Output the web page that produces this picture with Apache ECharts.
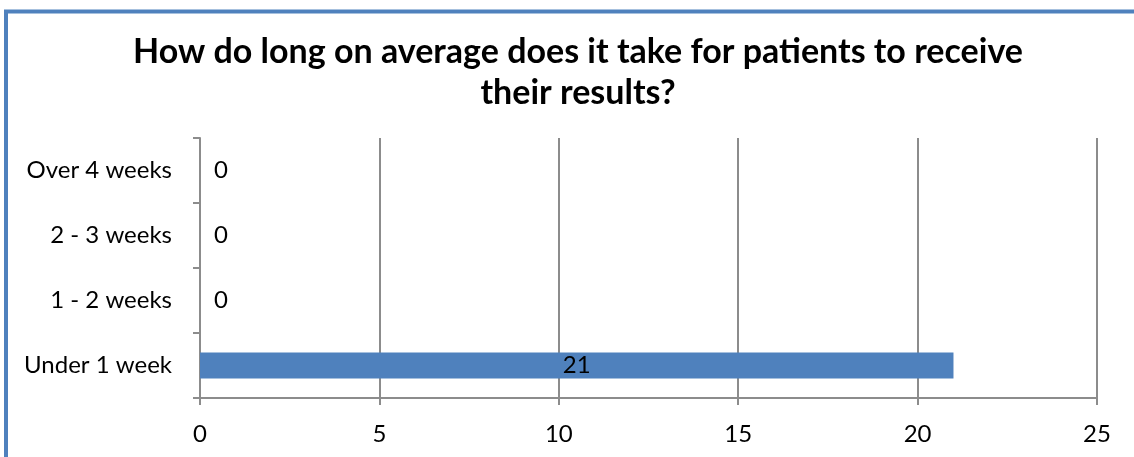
<!DOCTYPE html>
<html>
<head>
<meta charset="utf-8">
<script src="https://cdn.jsdelivr.net/npm/echarts@6/dist/echarts.min.js"></script>
<style>
  html, body { margin: 0; padding: 0; background: #fff; }
  #chart { width: 1134px; height: 457px; }
</style>
</head>
<body>
<div id="chart"></div>
<script>
// Survey answers: time for patients to receive results
const categories = ['Under 1 week', '1 - 2 weeks', '2 - 3 weeks', 'Over 4 weeks'];
const responses = [21, 0, 0, 0];
const xTicks = [0, 5, 10, 15, 20, 25];

const FONT = 'Lato, "Open Sans", sans-serif';
const chart = echarts.init(document.getElementById('chart'), null, { renderer: 'canvas' });

chart.setOption({
  animation: false,
  backgroundColor: '#ffffff',
  title: {
    text: 'How do long on average does it take for patients to receive\ntheir results?',
    left: 573,
    top: 27,
    textAlign: 'center',
    textStyle: {
      fontFamily: FONT,
      fontWeight: 'bold',
      fontSize: 34,
      lineHeight: 41,
      color: '#000'
    }
  },
  graphic: [{
    type: 'rect',
    shape: { x: 6, y: 11.5, width: 1300, height: 1000 },
    style: { fill: 'none', stroke: '#4F81BD', lineWidth: 4 },
    silent: true
  }],
  grid: { left: 200, right: 37, top: 138, bottom: 59 },
  xAxis: {
    type: 'value',
    min: xTicks[0],
    max: xTicks[xTicks.length - 1],
    interval: 5,
    axisLine: { show: true, lineStyle: { color: '#8c8c8c', width: 2 } },
    axisTick: { show: true, length: 7, lineStyle: { color: '#8c8c8c', width: 2 } },
    splitLine: { show: true, lineStyle: { color: '#8c8c8c', width: 2 } },
    axisLabel: { fontFamily: FONT, fontSize: 24, color: '#000', margin: 24 }
  },
  yAxis: {
    type: 'category',
    data: categories,
    axisLine: { show: true, lineStyle: { color: '#8c8c8c', width: 2 } },
    axisTick: { show: true, length: 7, lineStyle: { color: '#8c8c8c', width: 2 } },
    axisLabel: { fontFamily: FONT, fontSize: 24, color: '#000', margin: 28 }
  },
  series: [{
    type: 'bar',
    data: responses.map(v => ({
      value: v,
      label: v > 0
        ? { position: 'inside', offset: [0, 3] }
        : { position: 'right', distance: 14, offset: [0, 2] }
    })),
    barWidth: 26,
    itemStyle: { color: '#4F81BD' },
    label: {
      show: true,
      fontFamily: 'Lato',
      fontSize: 24,
      fontWeight: 'normal',
      color: '#000'
    },
    labelLayout: { hideOverlap: false }
  }]
});
</script>
</body>
</html>
